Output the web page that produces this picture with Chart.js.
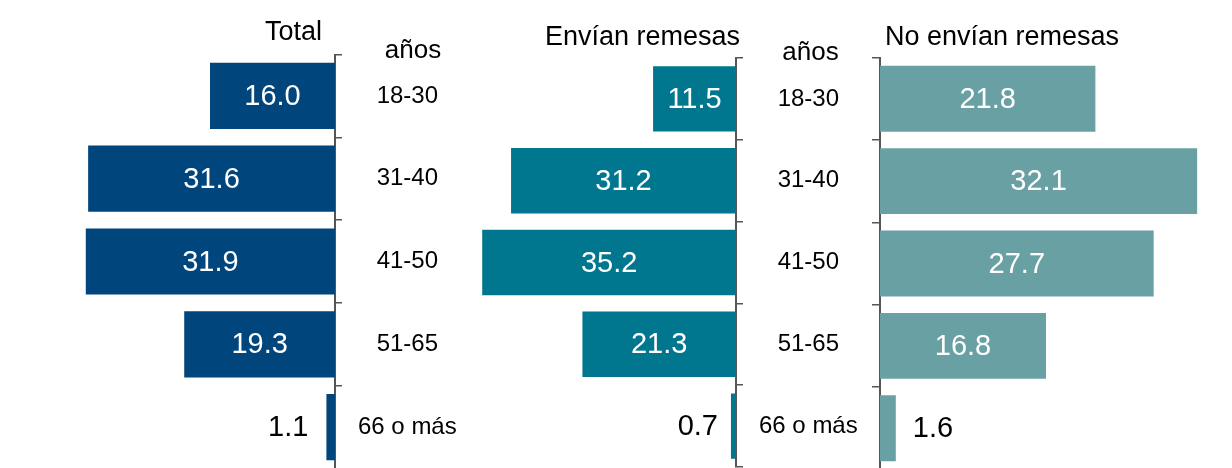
<!DOCTYPE html>
<html>
<head>
<meta charset="utf-8">
<script src="https://cdn.jsdelivr.net/npm/chart.js@4/dist/chart.umd.min.js"></script>
<style>
html,body{margin:0;padding:0;background:#fff;overflow:hidden;width:1232px;height:468px;}
canvas{position:absolute;left:0;top:0;width:1232px;height:520px;}
</style>
</head>
<body>
<canvas id="c1" width="1232" height="520"></canvas>
<canvas id="c2" width="1232" height="520"></canvas>
<canvas id="c3" width="1232" height="520"></canvas>
<script>
// ---- data ----
const ageGroups = ['18-30', '31-40', '41-50', '51-65', '66 o más'];
const totalValues = [16.0, 31.6, 31.9, 19.3, 1.1];
const sendValues = [11.5, 31.2, 35.2, 21.3, 0.7];
const noSendValues = [21.8, 32.1, 27.7, 16.8, 1.6];
const panelTitles = ['Total', 'Envían remesas', 'No envían remesas'];
const axisHeader = 'años';

const FONT = "'Liberation Sans', Arial, Helvetica, sans-serif";
const AXIS_COLOR = '#555555';

const valueLabels = {
  id: 'valueLabels',
  afterDatasetsDraw(chart, args, opts) {
    const ctx = chart.ctx;
    ctx.save();
    ctx.font = '29px ' + FONT;
    ctx.textBaseline = 'middle';
    chart.data.datasets.forEach((ds, i) => {
      chart.getDatasetMeta(i).data.forEach((bar, j) => {
        const txt = ds.data[j].toFixed(1);
        const w = ctx.measureText(txt).width;
        const left = Math.min(bar.x, bar.base), right = Math.max(bar.x, bar.base);
        if (right - left > w + 16) {
          ctx.fillStyle = '#fff';
          ctx.textAlign = 'center';
          ctx.fillText(txt, (left + right) / 2, bar.y + 1);
        } else {
          ctx.fillStyle = '#000';
          if (opts.reverse) { ctx.textAlign = 'right'; ctx.fillText(txt, left - opts.offset, bar.y + 1); }
          else { ctx.textAlign = 'left'; ctx.fillText(txt, right + opts.offset, bar.y + 1); }
        }
      });
    });
    ctx.restore();
  }
};

const headerTexts = {
  id: 'headerTexts',
  afterDraw(chart, args, opts) {
    const ctx = chart.ctx;
    ctx.save();
    ctx.fillStyle = '#000';
    ctx.textBaseline = 'alphabetic';
    (opts.items || []).forEach(it => {
      ctx.font = it.size + 'px ' + FONT;
      ctx.textAlign = it.align;
      ctx.fillText(it.text, it.x, it.y);
    });
    ctx.restore();
  }
};

function makeChart(id, values, color, cfg) {
  return new Chart(document.getElementById(id), {
    type: 'bar',
    data: {
      labels: ageGroups,
      datasets: [{ data: values, backgroundColor: color, borderWidth: 0, barPercentage: 0.8, categoryPercentage: 1 }]
    },
    options: {
      indexAxis: 'y',
      responsive: false,
      animation: false,
      events: [],
      layout: { padding: cfg.padding },
      plugins: {
        legend: { display: false },
        tooltip: { enabled: false },
        title: { display: false },
        valueLabels: { reverse: cfg.reverse, offset: cfg.offset },
        headerTexts: { items: cfg.texts }
      },
      scales: {
        x: { display: false, reverse: cfg.reverse, min: 0, max: cfg.max },
        y: {
          position: cfg.yPos,
          afterFit(s) { s.width = cfg.axisWidth; },
          grid: { display: true, drawOnChartArea: false, drawTicks: true, tickLength: cfg.tickLen, color: AXIS_COLOR, lineWidth: 1.5, offset: true },
          border: { display: true, color: AXIS_COLOR, width: 2 },
          ticks: { display: cfg.showLabels, color: '#000', font: { family: FONT, size: 24 }, padding: 16, crossAlign: 'center' }
        }
      }
    },
    plugins: [valueLabels, headerTexts]
  });
}

makeChart('c1', totalValues, '#00457C', {
  padding: { left: 22.5, right: 757, top: 54.5, bottom: 51.5 },
  max: 40, reverse: true, yPos: 'right', axisWidth: 140, tickLen: 7, showLabels: true, offset: 18,
  texts: [
    { text: panelTitles[0], x: 322, y: 40, align: 'right', size: 27 },
    { text: axisHeader, x: 413, y: 58, align: 'center', size: 26 }
  ]
});

makeChart('c2', sendValues, '#00778F', {
  padding: { left: 447.6, right: 356, top: 58, bottom: 53 },
  max: 40, reverse: true, yPos: 'right', axisWidth: 140, tickLen: 7, showLabels: true, offset: 13,
  texts: [
    { text: panelTitles[1], x: 740, y: 45, align: 'right', size: 27 },
    { text: axisHeader, x: 810.5, y: 60, align: 'center', size: 26 }
  ]
});

makeChart('c3', noSendValues, '#69A0A3', {
  padding: { left: 872, right: 6.2, top: 57.5, bottom: 50.5 },
  max: 35, reverse: false, yPos: 'left', axisWidth: 8, tickLen: 8, showLabels: false, offset: 17,
  texts: [
    { text: panelTitles[2], x: 885, y: 45, align: 'left', size: 27 }
  ]
});
</script>
</body>
</html>
